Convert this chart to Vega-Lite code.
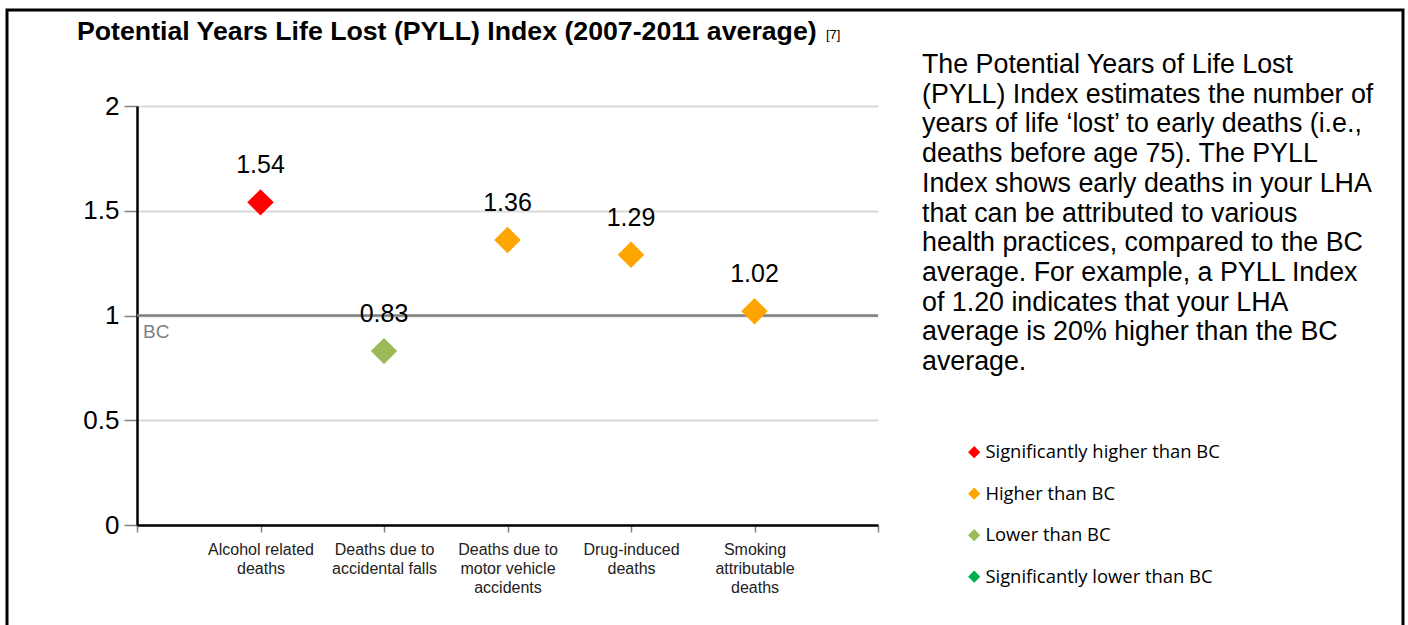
{
  "$schema": "https://vega.github.io/schema/vega-lite/v6.json",
  "width": 741,
  "height": 419,
  "autosize": {"type": "none"},
  "padding": {"left": 137, "top": 106, "right": 530, "bottom": 100},
  "background": "white",
  "config": {"view": {"stroke": null}, "font": "Liberation Sans"},
  "data": {
    "values": [
      {"category": "Alcohol related\ndeaths", "value": 1.54, "status": "Significantly higher than BC"},
      {"category": "Deaths due to\naccidental falls", "value": 0.83, "status": "Lower than BC"},
      {"category": "Deaths due to\nmotor vehicle\naccidents", "value": 1.36, "status": "Higher than BC"},
      {"category": "Drug-induced\ndeaths", "value": 1.29, "status": "Higher than BC"},
      {"category": "Smoking\nattributable\ndeaths", "value": 1.02, "status": "Higher than BC"}
    ]
  },
  "layer": [
    {
      "data": {"values": [{"ref": 1, "name": "BC"}]},
      "mark": {"type": "rule", "color": "#7f7f7f", "strokeWidth": 2.5},
      "encoding": {
        "y": {"field": "ref", "type": "quantitative", "scale": {"domain": [0, 2], "nice": false}, "axis": {"title": null, "values": [0, 0.5, 1, 1.5, 2], "format": ".1~f", "labelFont": "Liberation Sans", "labelFontSize": 26, "labelColor": "#000000", "labelPadding": 5, "tickSize": 13, "tickColor": "#808080", "tickWidth": 1.5, "domainColor": "#000000", "domainWidth": 2.5, "gridColor": "#d9d9d9", "gridWidth": 2}}
      }
    },
    {
      "data": {"values": [{"ref": 1, "name": "BC"}]},
      "mark": {"type": "text", "align": "left", "baseline": "middle", "dx": 6, "dy": 16, "fontSize": 19, "color": "#7f7f7f", "font": "Liberation Sans"},
      "encoding": {
        "x": {"value": 0},
        "y": {"field": "ref", "type": "quantitative"},
        "text": {"field": "name"}
      }
    },
    {
      "mark": {"type": "point", "shape": "diamond", "filled": true, "size": 700, "opacity": 1},
      "encoding": {
        "x": {
          "field": "category",
          "type": "nominal",
          "sort": null,
          "scale": {"type": "point", "padding": 0, "domain": ["_start", "Alcohol related\ndeaths", "Deaths due to\naccidental falls", "Deaths due to\nmotor vehicle\naccidents", "Drug-induced\ndeaths", "Smoking\nattributable\ndeaths", "_end"]},
          "axis": {"title": null, "labelAngle": 0, "labelExpr": "indexof(datum.label, '_') == 0 ? '' : split(datum.label, '\\n')", "labelFont": "Liberation Sans", "labelFontSize": 16, "labelColor": "#222222", "labelLineHeight": 19, "labelPadding": 9, "tickSize": 7, "tickColor": "#808080", "tickWidth": 1.5, "domainColor": "#000000", "domainWidth": 2.5, "grid": false}
        },
        "y": {"field": "value", "type": "quantitative"},
        "color": {
          "field": "status",
          "type": "nominal",
          "scale": {"domain": ["Significantly higher than BC", "Higher than BC", "Lower than BC", "Significantly lower than BC"], "range": ["#ff0000", "#ffa500", "#9bbb59", "#00b050"]},
          "legend": {
            "orient": "none",
            "legendX": 828,
            "legendY": 337,
            "title": null,
            "padding": 0,
            "symbolType": "diamond",
            "symbolSize": 150,
            "symbolStrokeWidth": 0,
            "labelFont": "Open Sans",
            "labelFontSize": 18.4,
            "labelColor": "#000000",
            "labelOffset": 2,
            "rowPadding": 22.5,
            "labelLimit": 400,
            "encode": {"symbols": {
              "enter": {"fill": {"signal": "datum.value === 'Higher than BC' ? '#f79646' : datum.value === 'Lower than BC' ? '#9bbb59' : datum.value === 'Significantly lower than BC' ? '#00b050' : '#ff0000'"}},
              "update": {"fill": {"signal": "datum.value === 'Higher than BC' ? '#f79646' : datum.value === 'Lower than BC' ? '#9bbb59' : datum.value === 'Significantly lower than BC' ? '#00b050' : '#ff0000'"}, "opacity": {"value": 1}}
            }}
          }
        }
      }
    },
    {
      "mark": {"type": "text", "dy": -37, "fontSize": 25, "font": "Liberation Sans", "color": "#000000", "baseline": "middle"},
      "encoding": {
        "x": {"field": "category", "type": "nominal"},
        "y": {"field": "value", "type": "quantitative"},
        "text": {"field": "value", "type": "quantitative", "format": ".2f"}
      }
    },
    {
      "data": {"values": [{"note": "Potential Years Life Lost (PYLL) Index (2007-2011 average)"}]},
      "mark": {"type": "text", "align": "left", "baseline": "alphabetic", "fontSize": 26.7, "fontWeight": "bold", "font": "Liberation Sans", "color": "#000000"},
      "encoding": {"x": {"value": -60}, "y": {"value": -66}, "text": {"field": "note"}}
    },
    {
      "data": {"values": [{"note": "[7]"}]},
      "mark": {"type": "text", "align": "left", "baseline": "middle", "fontSize": 13, "font": "Liberation Sans", "color": "#000000"},
      "encoding": {"x": {"value": 689}, "y": {"value": -71}, "text": {"field": "note"}}
    },
    {
      "data": {"values": [{"note": "description"}]},
      "mark": {"type": "text", "align": "left", "baseline": "alphabetic", "fontSize": 26.8, "lineHeight": 29.7, "font": "Liberation Sans", "color": "#000000"},
      "encoding": {
        "x": {"value": 785},
        "y": {"value": -33},
        "text": {"value": ["The Potential Years of Life Lost", "(PYLL) Index estimates the number of", "years of life ‘lost’ to early deaths (i.e.,", "deaths before age 75). The PYLL", "Index shows early deaths in your LHA", "that can be attributed to various", "health practices, compared to the BC", "average. For example, a PYLL Index", "of 1.20 indicates that your LHA", "average is 20% higher than the BC", "average."]}
      }
    },
    {
      "data": {"values": [{"note": "frame"}]},
      "mark": {"type": "rect", "fillOpacity": 0, "stroke": "#000000", "strokeWidth": 3},
      "encoding": {"x": {"value": -130}, "x2": {"value": 1266}, "y": {"value": -96}, "y2": {"value": 540}}
    }
  ]
}
